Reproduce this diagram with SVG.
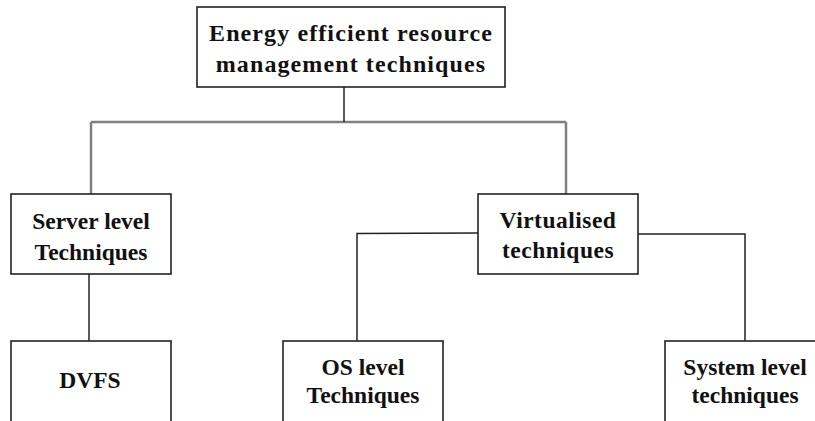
<svg xmlns="http://www.w3.org/2000/svg" width="815" height="421" viewBox="0 0 815 421">
<style>
.box{fill:#fff;stroke:#222;stroke-width:1.6}
.g{fill:none;stroke:#808080;stroke-width:2.5}
.k{fill:none;stroke:#222;stroke-width:1.5}
</style>
<rect width="815" height="421" fill="#fff"/>
<g id="connectors">
<path class="g" d="M91,122 H566"/>
<path class="g" d="M91,122 V200"/>
<path class="g" d="M566,122 V201"/>
<path class="k" d="M344,87 V122"/>
<path class="k" d="M89,274 V341"/>
<path class="k" d="M478,233 L357,233.5 V341"/>
<path class="k" d="M638,234 H745 V341"/>
</g>
<g font-family="Liberation Serif, Times New Roman, serif" font-weight="bold" font-size="23.5" fill="#111" text-anchor="middle">
<g id="root">
<rect class="box" x="197" y="7" width="308" height="80"/>
<text x="351" y="41" letter-spacing="1.1" font-size="24">Energy efficient resource</text>
<text x="351" y="72" letter-spacing="1.1" font-size="24">management techniques</text>
</g>
<g id="server">
<rect class="box" x="11" y="194" width="160" height="80"/>
<text x="91" y="229">Server level</text>
<text x="91" y="260">Techniques</text>
</g>
<g id="virtualised">
<rect class="box" x="478" y="194" width="160" height="80"/>
<text x="558" y="228" letter-spacing="0.5">Virtualised</text>
<text x="558" y="258" letter-spacing="0.5">techniques</text>
</g>
<g id="dvfs">
<rect class="box" x="11" y="341" width="160" height="90"/>
<text x="90" y="388">DVFS</text>
</g>
<g id="os">
<rect class="box" x="283" y="341" width="160" height="90"/>
<text x="363" y="375">OS level</text>
<text x="363" y="403">Techniques</text>
</g>
<g id="system">
<rect class="box" x="665" y="341" width="160" height="90"/>
<text x="745" y="375">System level</text>
<text x="745" y="403">techniques</text>
</g>
</g>
</svg>
